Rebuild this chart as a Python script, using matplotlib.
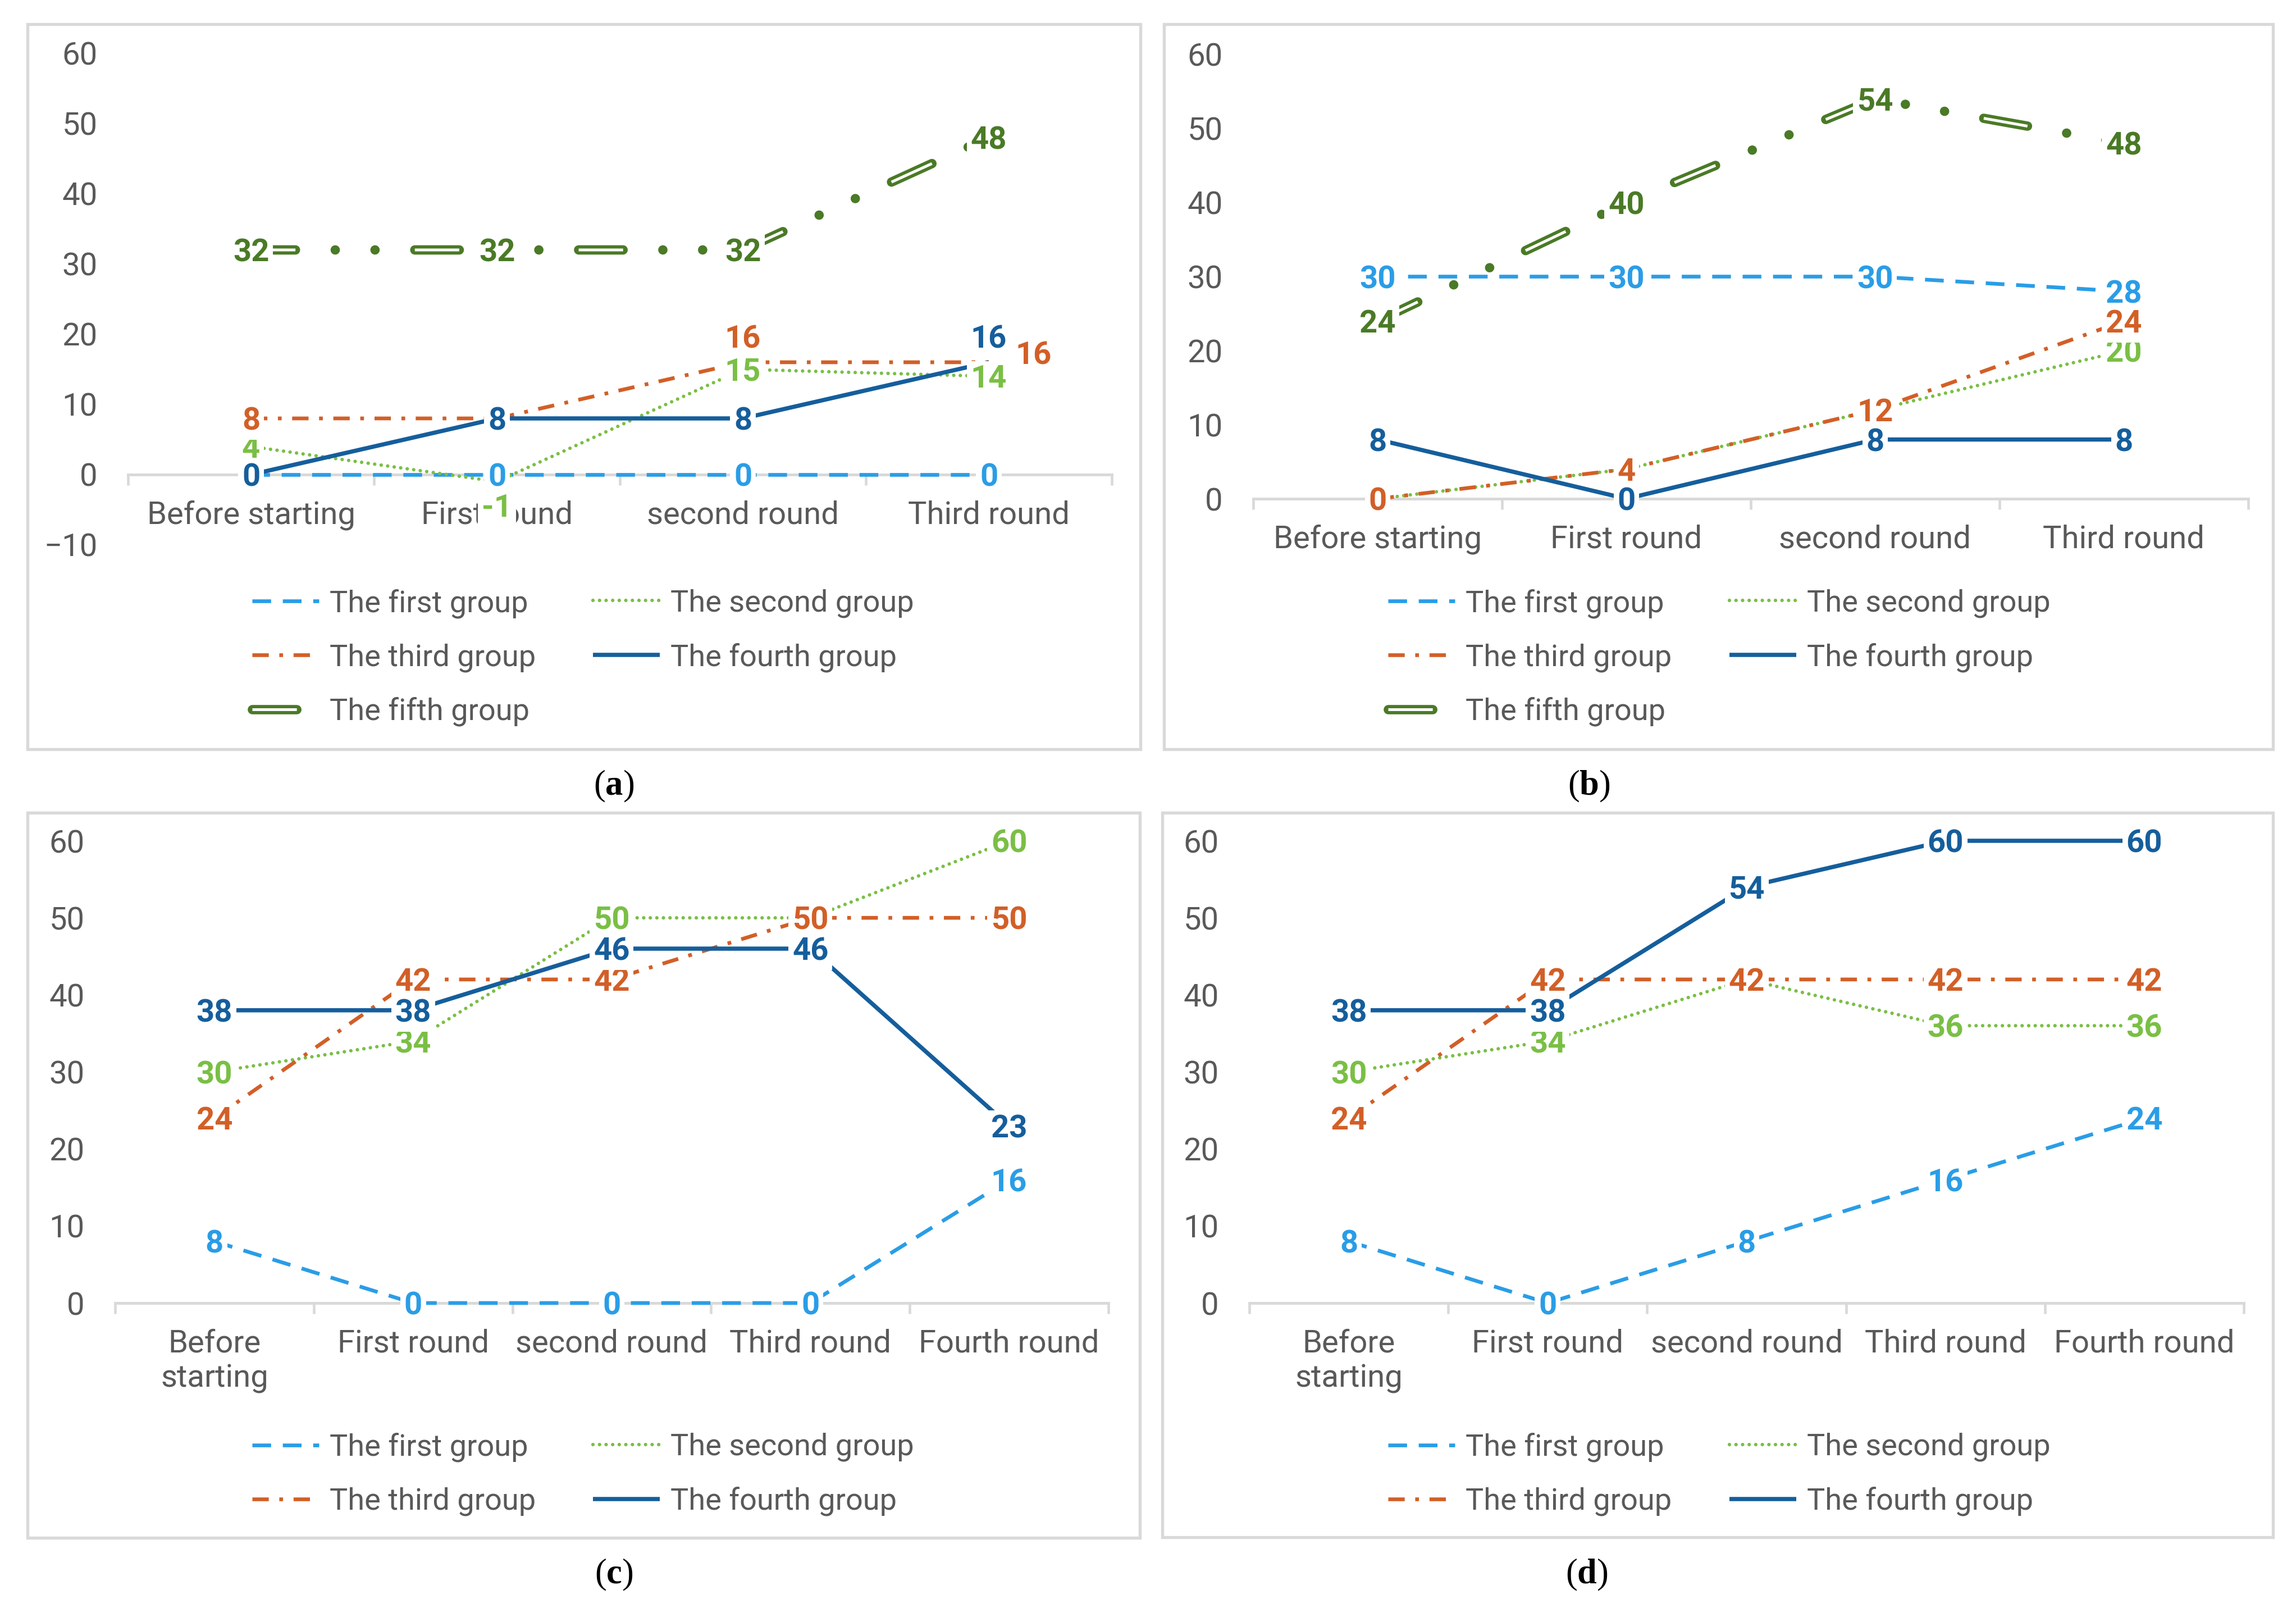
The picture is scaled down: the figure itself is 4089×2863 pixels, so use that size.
import matplotlib
matplotlib.use("Agg")
import matplotlib.pyplot as plt
from matplotlib import font_manager
from matplotlib.patches import Rectangle

installed = {f.name for f in font_manager.fontManager.ttflist}
SANS = "Liberation Sans Narrow" if "Liberation Sans Narrow" in installed else "Roboto"

plt.rcParams["font.family"] = [SANS, "DejaVu Sans"]
plt.rcParams["lines.scale_dashes"] = False
plt.rcParams["mathtext.fontset"] = "custom"
plt.rcParams["mathtext.rm"] = "Liberation Serif"
plt.rcParams["mathtext.bf"] = "Liberation Serif:bold"

# ---- data ----
rounds4 = ["Before starting", "First round", "second round", "Third round"]
rounds5 = ["Before\nstarting", "First round", "second round", "Third round", "Fourth round"]
groups = ["The first group", "The second group", "The third group",
          "The fourth group", "The fifth group"]

a_first = [0, 0, 0, 0]
a_second = [4, -1, 15, 14]
a_third = [8, 8, 16, 16]
a_fourth = [0, 8, 8, 16]
a_fifth = [32, 32, 32, 48]

b_first = [30, 30, 30, 28]
b_second = [0, 4, 12, 20]
b_third = [0, 4, 12, 24]
b_fourth = [8, 0, 8, 8]
b_fifth = [24, 40, 54, 48]

c_first = [8, 0, 0, 0, 16]
c_second = [30, 34, 50, 50, 60]
c_third = [24, 42, 42, 50, 50]
c_fourth = [38, 38, 46, 46, 23]

d_first = [8, 0, 8, 16, 24]
d_second = [30, 34, 42, 36, 36]
d_third = [24, 42, 42, 42, 42]
d_fourth = [38, 38, 54, 60, 60]

# ---- style ----
GRAY = "#595959"
AXIS = "#D9D9D9"
COLORS = ["#2A9DE6", "#7ABF45", "#D25F27", "#155E9C", "#4A7A26"]
STYLES = [
    dict(lw=1.6, dashes=(8, 5), dash_capstyle="butt"),
    dict(lw=1.5, dashes=(0.01, 2.8), dash_capstyle="round"),
    dict(lw=1.6, dashes=(7, 4.5, 1.6, 4.5), dash_capstyle="butt"),
    dict(lw=1.8, solid_capstyle="butt"),
    dict(lw=4.0, dashes=(19, 17, 0.01, 17, 0.01, 17), dash_capstyle="round"),
]
FIFTH_INNER = dict(lw=1.2, dashes=(19, 17, 0.01, 17, 0.01, 17), dash_capstyle="butt")
# label offsets in points: centre, top, bottom, right
OFFSETS = {"c": (0, 0), "t": (0, 11), "b": (0, -10), "r": (19, 4)}
FS = 13.5

fig = plt.figure(figsize=(4089 / 300, 2863 / 300), dpi=300)


def draw_panel(rect, cats, series, ylim, label_pos):
    ax = fig.add_axes(rect)
    n = len(cats)
    x = list(range(n))
    handles = []
    for i, vals in enumerate(series):
        ln, = ax.plot(x, vals, color=COLORS[i], clip_on=False, zorder=3, **STYLES[i])
        if i == 4:
            inner, = ax.plot(x, vals, color="white", clip_on=False, zorder=3, **FIFTH_INNER)
            handles.append((ln, inner))
        else:
            handles.append(ln)
    for i, vals in enumerate(series):
        pos = label_pos.get(i, "c" * n)
        for xi, v in enumerate(vals):
            dx, dy = OFFSETS[pos[xi]]
            ax.annotate(str(v), (xi, v), xytext=(dx, dy), textcoords="offset points",
                        ha="center", va="center_baseline", fontsize=FS, fontweight="bold",
                        color=COLORS[i], zorder=5 + i, annotation_clip=False,
                        bbox=dict(boxstyle="square,pad=0.12", fc="white", ec="none"))
    ax.set_xlim(-0.5, n - 0.5)
    ax.set_ylim(*ylim)
    ax.set_yticks(range(ylim[0], ylim[1] + 1, 10))
    ax.set_xticks(x)
    ax.set_xticklabels(cats, linespacing=1.4)
    ax.set_xticks([k - 0.5 for k in range(n + 1)], minor=True)
    ax.tick_params(axis="x", which="major", length=0, pad=11, labelsize=FS, labelcolor=GRAY)
    ax.tick_params(axis="x", which="minor", length=4.5, width=1.1, color=AXIS, direction="out")
    ax.tick_params(axis="y", length=0, pad=13, labelsize=FS, labelcolor=GRAY)
    for s in ["top", "right", "left"]:
        ax.spines[s].set_visible(False)
    ax.spines["bottom"].set_position(("data", 0))
    ax.spines["bottom"].set_color(AXIS)
    ax.spines["bottom"].set_linewidth(1.2)
    ax.spines["bottom"].set_zorder(1)
    ax.patch.set_visible(False)
    return handles


def add_legend(handles, labels, x, y):
    fig.legend(handles, labels, loc="upper left", bbox_to_anchor=(x, y), frameon=False,
               fontsize=13, handlelength=2.2, handletextpad=0.35, labelspacing=0.82,
               borderpad=0, borderaxespad=0, labelcolor=GRAY)


def frame(x0, y0, x1, y1):
    fig.add_artist(Rectangle((x0, y0), x1 - x0, y1 - y0, transform=fig.transFigure,
                             fill=False, ec=AXIS, lw=1.3))


frame(0.01198, 0.53405, 0.4967, 0.98498)
frame(0.50697, 0.53405, 0.98997, 0.98498)
frame(0.01198, 0.04366, 0.49645, 0.49459)
frame(0.50624, 0.04401, 0.98997, 0.49459)

# (a)
h = draw_panel([0.05576, 0.66120, 0.42847, 0.30562], rounds4,
               [a_first, a_second, a_third, a_fourth, a_fifth], (-10, 60),
               {1: "cbcc", 2: "cctr", 3: "ccct"})
add_legend([h[0], h[2], h[4]], [groups[0], groups[2], groups[4]], 0.1098, 0.6339)
add_legend([h[1], h[3]], [groups[1], groups[3]], 0.2583, 0.6339)

# (b)
h = draw_panel([0.54585, 0.68983, 0.43336, 0.27629], rounds4,
               [b_first, b_second, b_third, b_fourth, b_fifth], (0, 60), {})
add_legend([h[0], h[2], h[4]], [groups[0], groups[2], groups[4]], 0.6046, 0.6339)
add_legend([h[1], h[3]], [groups[1], groups[3]], 0.7533, 0.6339)

# (c)
h = draw_panel([0.05013, 0.18966, 0.43263, 0.28746], rounds5,
               [c_first, c_second, c_third, c_fourth], (0, 60), {})
add_legend([h[0], h[2]], [groups[0], groups[2]], 0.1097, 0.1090)
add_legend([h[1], h[3]], [groups[1], groups[3]], 0.2583, 0.1090)

# (d)
h = draw_panel([0.54414, 0.18966, 0.43312, 0.28746], rounds5,
               [d_first, d_second, d_third, d_fourth], (0, 60), {})
add_legend([h[0], h[2]], [groups[0], groups[2]], 0.6046, 0.1090)
add_legend([h[1], h[3]], [groups[1], groups[3]], 0.7533, 0.1090)

for lab, x, y in [("a", 0.2673, 0.511), ("b", 0.6921, 0.511),
                  ("c", 0.2673, 0.0207), ("d", 0.6911, 0.0207)]:
    fig.text(x, y, "($\\mathbf{%s}$)" % lab, ha="center", va="center",
             fontsize=15, family="Liberation Serif")

fig.savefig("out.png", dpi=300)
